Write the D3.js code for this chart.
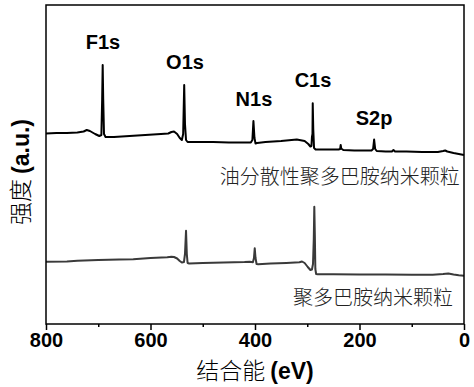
<!DOCTYPE html>
<html>
<head>
<meta charset="utf-8">
<script src="https://cdn.jsdelivr.net/npm/d3@7"></script>
<style>
  body { margin: 0; background: #fff; }
  .zh { font-family: "Noto Sans CJK SC", sans-serif; font-weight: 300; }
  .en { font-family: "Liberation Sans", Arial, sans-serif; font-weight: bold; }
</style>
</head>
<body>
<div class="xps"></div>
<script>
// upper spectrum: oil-dispersible PDA nanoparticles
var upperEnergy = [800, 780, 760, 740, 728, 722, 716, 706, 698, 694, 692.5, 691.5, 690.5, 689, 686, 670, 640, 610, 580, 566, 560, 555, 549, 544, 540, 537.5, 535.5, 534, 532, 529, 510, 480, 450, 420, 408, 405, 403, 401, 399, 396, 380, 350, 320, 305, 298, 294, 292, 291, 290, 289.5, 288.5, 287, 284, 270, 250, 240, 237, 236, 235, 231, 210, 190, 177, 174, 172, 170, 167, 150, 138, 135, 132, 110, 80, 50, 40, 36, 32, 20, 10, 0]
var upperIntensity = [190.5, 191, 191, 191.5, 192.5, 194, 193, 190, 188, 189, 225, 259, 225, 190, 187, 187, 188, 189, 190, 190.5, 192, 192.5, 190, 186, 184, 190, 239, 200, 184, 182, 182, 182, 181.5, 181.5, 181.5, 184, 203, 186, 180.5, 181, 182, 183, 184.5, 183, 180, 177.5, 178, 187, 190, 220.7, 195, 176, 174.5, 174.5, 174.5, 174.5, 175, 179, 175.5, 174, 173.5, 173.5, 173.5, 175, 184.5, 175, 173, 172.5, 172.5, 174, 172.5, 172.5, 172, 172, 173, 173.5, 172.5, 171, 170, 169]

// lower spectrum: PDA nanoparticles
var lowerEnergy = [800, 760, 740, 700, 660, 633, 600, 568, 560, 555, 549, 544, 540, 536, 534, 532, 530.5, 529, 526, 500, 460, 420, 410, 404, 402, 400.5, 399, 397, 394, 370, 340, 315, 310, 305, 299, 294, 291, 289, 287.5, 286.5, 285.5, 284.5, 283, 280, 250, 200, 150, 100, 60, 40, 30, 20, 10, 0]
var lowerIntensity = [62.3, 62.5, 63.2, 64, 64.5, 64.7, 66, 66.7, 67.2, 67, 65.5, 63, 61.5, 62, 70, 93.3, 70, 61, 60.5, 61, 61.5, 62, 62.3, 61.8, 66, 75.7, 66, 60, 59.8, 60.5, 61, 61.7, 62.5, 61, 57, 54, 54.5, 60, 85, 117.3, 90, 55, 50, 49.7, 49.7, 49.5, 49.5, 49.3, 49.3, 50, 50.5, 49.5, 48.8, 48.3]

var peakNames = ["F1s", "O1s", "N1s", "C1s", "S2p"]
var peakEnergy = [691, 534, 402, 289, 172]
var peakTextLevel = [275, 255, 218, 237, 199]

var sampleNames = ["油分散性聚多巴胺纳米颗粒", "聚多巴胺纳米颗粒"]
var sampleEnergy = [8, 21]
var sampleLevel = [147, 26]

var majorTicks = [800, 600, 400, 200, 0]
var minorTicks = [700, 500, 300, 100]

var width = 474, height = 387
var margin = {left: 46, top: 5, right: 10, bottom: 63}
var w = width - margin.left - margin.right,
    h = height - margin.top - margin.bottom

var svg = d3.select(".xps").append("svg")
  .attr("width", width)
  .attr("height", height)

var g = svg.append("g")
  .attr("transform", `translate(${margin.left},${margin.top})`)

var x = d3.scaleLinear().domain([800, 0]).range([0, w])
var y = d3.scaleLinear().domain([0, h]).range([h, 0])

var line = d3.line()
  .x(function (d) { return x(d[0]) })
  .y(function (d) { return y(d[1]) })

var upper = d3.zip(upperEnergy, upperIntensity)
var lower = d3.zip(lowerEnergy, lowerIntensity)

g.append("path").datum(lower)
  .attr("d", line)
  .attr("fill", "none")
  .attr("stroke", "#3a3a3a")
  .attr("stroke-width", 2)
  .attr("stroke-linejoin", "round")

g.append("path").datum(upper)
  .attr("d", line)
  .attr("fill", "none")
  .attr("stroke", "#000")
  .attr("stroke-width", 2)
  .attr("stroke-linejoin", "round")

// frame
g.append("rect")
  .attr("width", w).attr("height", h)
  .attr("fill", "none")
  .attr("stroke", "#000")
  .attr("stroke-width", 1.5)

// x axis
var xAxis = g.append("g")
  .attr("transform", `translate(0,${h})`)
  .call(d3.axisBottom(x).tickValues(majorTicks).tickSize(6).tickPadding(3).tickFormat(d3.format("d")))
xAxis.select(".domain").remove()
xAxis.selectAll("line").attr("stroke-width", 1.5)
xAxis.selectAll("text")
  .attr("class", "en")
  .attr("font-size", 20)
  .attr("fill", "#000")

g.append("g")
  .attr("transform", `translate(0,${h})`)
  .call(d3.axisBottom(x).tickValues(minorTicks).tickSize(3).tickFormat(""))
  .call(function (s) { s.select(".domain").remove() })
  .selectAll("line").attr("stroke-width", 1.5)

// peak labels
g.selectAll(".peak")
  .data(peakNames)
  .enter().append("text")
  .attr("class", "en")
  .attr("x", function (d, i) { return x(peakEnergy[i]) })
  .attr("y", function (d, i) { return y(peakTextLevel[i]) })
  .attr("text-anchor", "middle")
  .attr("font-size", 20)
  .text(function (d) { return d })

// sample names
g.selectAll(".sample")
  .data(sampleNames)
  .enter().append("text")
  .attr("class", "zh")
  .attr("x", function (d, i) { return x(sampleEnergy[i]) })
  .attr("y", function (d, i) { return y(sampleLevel[i]) })
  .attr("dy", "0.35em")
  .attr("text-anchor", "end")
  .attr("font-size", 20)
  .attr("fill", "#222")
  .text(function (d) { return d })

// axis titles
var xt = svg.append("text")
  .attr("x", margin.left + w / 2)
  .attr("y", 379)
  .attr("text-anchor", "middle")
  .attr("font-size", 23)
xt.append("tspan").attr("class", "zh").text("结合能 ")
xt.append("tspan").attr("class", "en").text("(eV)")

var yt = svg.append("text")
  .attr("transform", "translate(29,172) rotate(-90)")
  .attr("text-anchor", "middle")
  .attr("font-size", 23)
yt.append("tspan").attr("class", "zh").text("强度 ")
yt.append("tspan").attr("class", "en").text("(a.u.)")
</script>
</body>
</html>
